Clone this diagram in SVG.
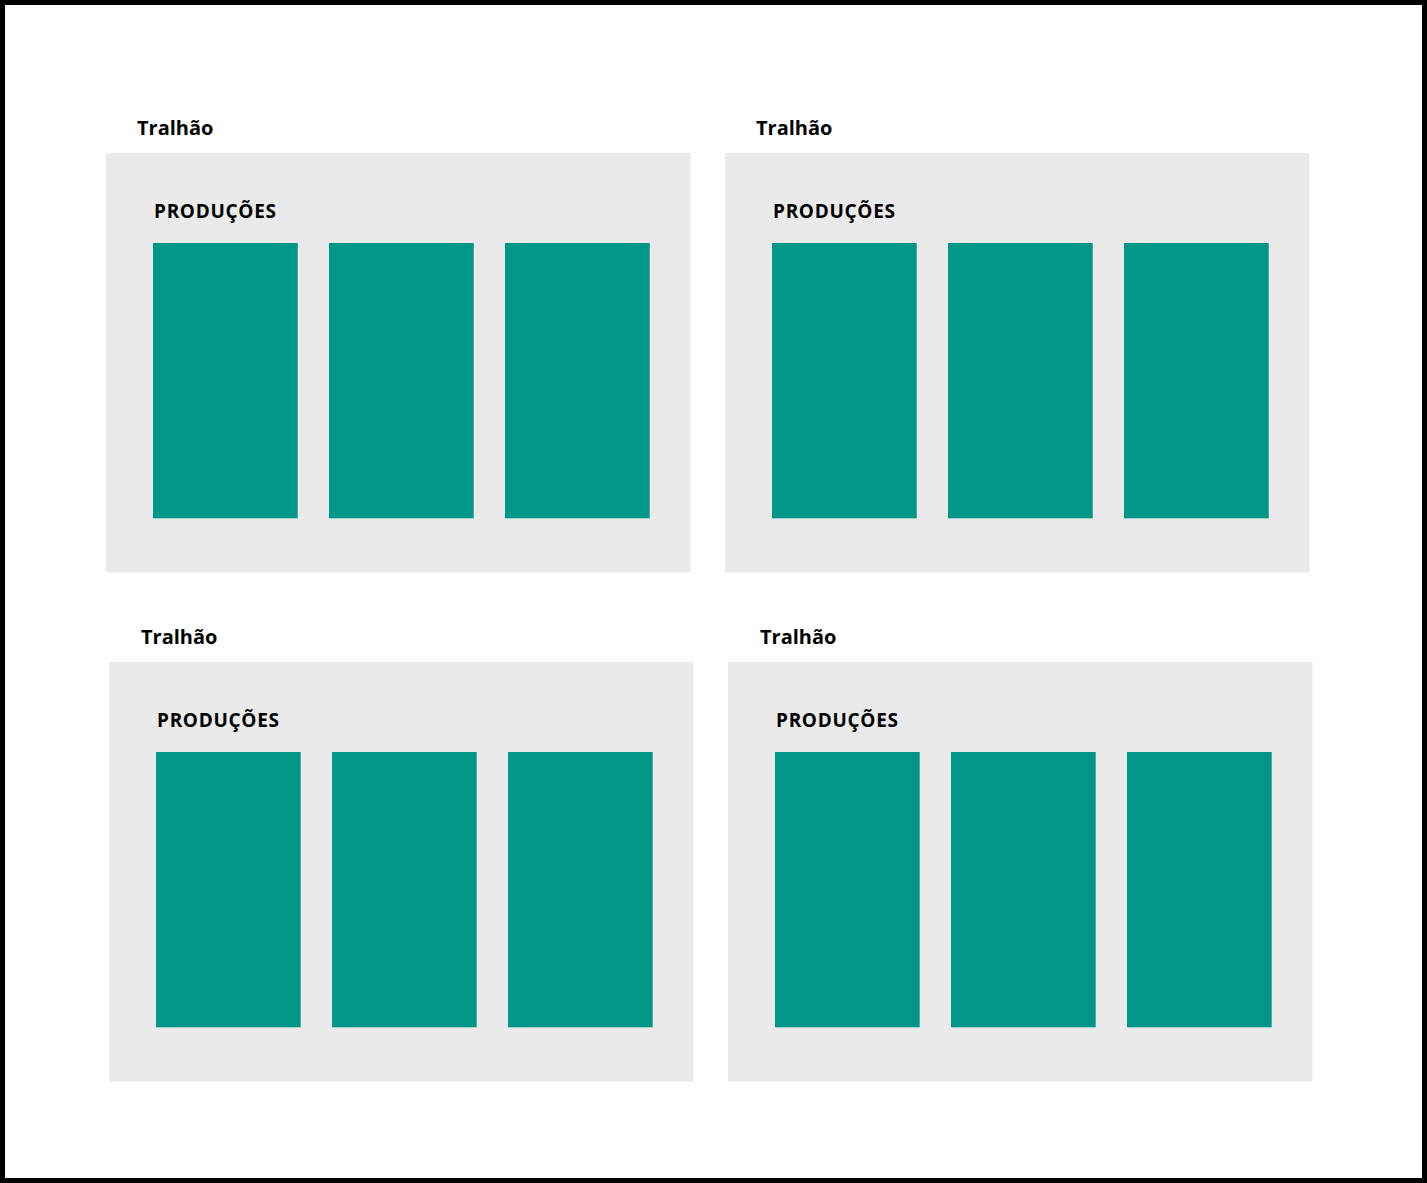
<svg xmlns="http://www.w3.org/2000/svg" width="1427" height="1183" viewBox="0 0 1427 1183">
<style>
.frame{fill:#fff;stroke:#000;stroke-width:5}
.panel{fill:#eaeaea}
.card{fill:#009688}
.t{font-family:"Open Sans","Liberation Sans",sans-serif;font-weight:bold;font-size:20px;fill:#000}
.h{font-family:"Open Sans","Liberation Sans",sans-serif;font-weight:bold;font-size:19px;fill:#000;letter-spacing:0.7px}
</style>
<rect class="frame" x="2.5" y="2.5" width="1422" height="1178"/>
<g id="panel1" transform="translate(0,0)">
<text class="t" x="137" y="135">Tralhão</text>
<rect class="panel" x="106" y="153" width="584.5" height="419.5"/>
<text class="h" x="154" y="218">PRODUÇÕES</text>
<rect class="card" x="153" y="243" width="144.7" height="275.3"/>
<rect class="card" x="329" y="243" width="144.7" height="275.3"/>
<rect class="card" x="505" y="243" width="144.7" height="275.3"/>
</g>
<g id="panel2" transform="translate(619,0)">
<text class="t" x="137" y="135">Tralhão</text>
<rect class="panel" x="106" y="153" width="584.5" height="419.5"/>
<text class="h" x="154" y="218">PRODUÇÕES</text>
<rect class="card" x="153" y="243" width="144.7" height="275.3"/>
<rect class="card" x="329" y="243" width="144.7" height="275.3"/>
<rect class="card" x="505" y="243" width="144.7" height="275.3"/>
</g>
<g id="panel3" transform="translate(3,509)">
<text class="t" x="138" y="135">Tralhão</text>
<rect class="panel" x="106" y="153" width="584.5" height="419.5"/>
<text class="h" x="154" y="218">PRODUÇÕES</text>
<rect class="card" x="153" y="243" width="144.7" height="275.3"/>
<rect class="card" x="329" y="243" width="144.7" height="275.3"/>
<rect class="card" x="505" y="243" width="144.7" height="275.3"/>
</g>
<g id="panel4" transform="translate(622,509)">
<text class="t" x="138" y="135">Tralhão</text>
<rect class="panel" x="106" y="153" width="584.5" height="419.5"/>
<text class="h" x="154" y="218">PRODUÇÕES</text>
<rect class="card" x="153" y="243" width="144.7" height="275.3"/>
<rect class="card" x="329" y="243" width="144.7" height="275.3"/>
<rect class="card" x="505" y="243" width="144.7" height="275.3"/>
</g>
<g id="connectors"/>
</svg>
